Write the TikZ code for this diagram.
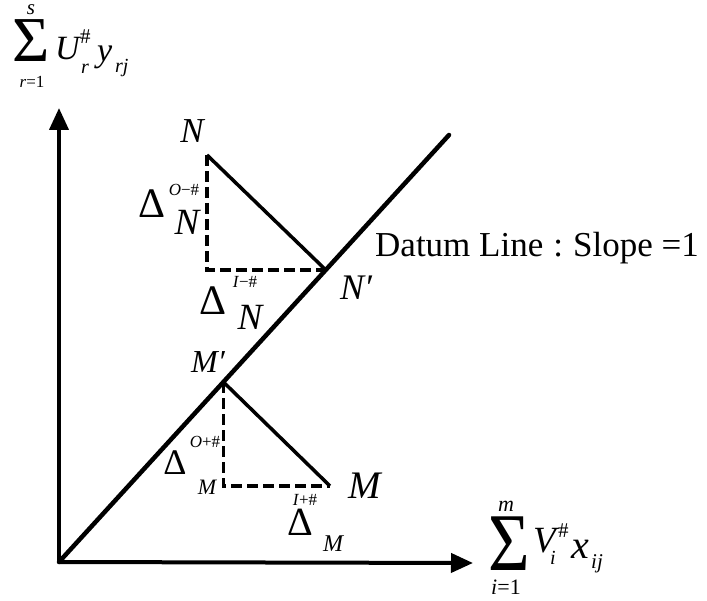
\documentclass[tikz,border=0pt]{standalone}
\usepackage{fontspec}
\usepackage{graphicx}
\setmainfont{Liberation Serif}
\usetikzlibrary{arrows.meta,calc}
\newcommand\fsz[1]{\fontsize{#1}{#1}\selectfont}
\begin{document}
\begin{tikzpicture}[x=1pt,y=-1pt,
  axisln/.style={line width=4pt,-{Triangle[length=22pt,width=19pt]}},
  datumln/.style={line width=4.5pt,line cap=round},
  solidln/.style={line width=3.5pt},
  dashln/.style={line width=3.5pt,dash pattern=on 11pt off 5pt},
  lbl/.style={inner sep=0pt,anchor=base},
  lblw/.style={inner sep=0pt,anchor=base west}]
\useasboundingbox (0,0) rectangle (707,601);
% axes
\coordinate (O) at (59,562);
\coordinate (ytip) at (59,108);
\coordinate (xtip) at (473,563);
\coordinate (D) at (449,135);
\draw[axisln] (O) -- (ytip);
\draw[axisln] (O) -- (xtip);
\draw[datumln] (O) -- (D);
% triangle N
\coordinate (N) at (207,155);
\coordinate (Np) at ($(O)!0.684!(D)$);
\coordinate (Nc) at (N |- Np);
\draw[solidln] (N) -- (Np);
\draw[dashln] (N) -- (Nc) -- (Np);
% triangle M
\coordinate (Mp) at ($(O)!0.4215!(D)$);
\coordinate (M) at (330,486);
\coordinate (Mc) at (Mp |- M);
\draw[solidln] (Mp) -- (M);
\draw[dashln] (Mp) -- (Mc) -- (M);
% y axis label
\node[lbl,font=\fsz{64}] (ysig) at (31,62) {Σ};
\node[lbl,font=\fsz{21}\itshape] (ys) at (31,15) {s};
\node[lbl,font=\fsz{17}] (yr1) at (32,88) {\textit{r}=1};
\node[lblw,font=\fsz{34}\itshape] (yU) at (55,60) {U};
\node[lblw,font=\fsz{21}] (yh) at (80,44) {\#};
\node[lblw,font=\fsz{20}\itshape] (yr) at (81,74) {r};
\node[lblw,font=\fsz{34}\itshape] (yy) at (97,62) {y};
\node[lblw,font=\fsz{20}\itshape] (yrj) at (115,73) {rj};
% x axis label
\node[lbl,font=\fsz{82}] (xsig) at (509,570) {\scalebox{0.87}[1]{Σ}};
\node[lbl,font=\fsz{22}\itshape] (xm) at (506,511) {m};
\node[lbl,font=\fsz{22}] (xi1) at (506,594) {\textit{i}=1};
\node[lblw,font=\fsz{37}\itshape] (xV) at (533,552) {V};
\node[lblw,font=\fsz{21}] (xh) at (558,537) {\#};
\node[lblw,font=\fsz{20}\itshape] (xi) at (550,564) {i};
\node[lblw,font=\fsz{40}\itshape] (xx) at (571,558) {x};
\node[lblw,font=\fsz{21}\itshape] (xij) at (591,568) {ij};
% datum text
\node[lblw,font=\fsz{35}] (datum) at (375,257) {Datum Line\hspace{10pt}:\hspace{10pt}Slope =1};
% N labels
\node[lbl,font=\fsz{35}\itshape] (lN) at (192,143) {N};
\node[lbl,font=\fsz{42}] (dNO) at (152,218) {Δ};
\node[lbl,font=\fsz{17}] (dNOs) at (184,196) {\textit{O}−\#};
\node[lbl,font=\fsz{37}\itshape] (dNOn) at (187,235) {N};
\node[lbl,font=\fsz{17}] (dNIs) at (245,288) {\textit{I}−\#};
\node[lbl,font=\fsz{42}] (dNI) at (213,315) {Δ};
\node[lbl,font=\fsz{37}\itshape] (dNIn) at (250,330) {N};
\node[lbl,font=\fsz{36}\itshape] (lNp) at (356,300) {N′};
% M labels
\node[lbl,font=\fsz{32}\itshape] (lMp) at (208,373) {M′};
\node[lbl,font=\fsz{17}] (dMOs) at (205,448) {\textit{O}+\#};
\node[lbl,font=\fsz{36}] (dMO) at (175,475) {Δ};
\node[lbl,font=\fsz{22}\itshape] (dMOm) at (207,494) {M};
\node[lbl,font=\fsz{39}\itshape] (lM) at (365,498) {M};
\node[lbl,font=\fsz{17}] (dMIs) at (305,505) {\textit{I}+\#};
\node[lbl,font=\fsz{40}] (dMI) at (300,535) {Δ};
\node[lbl,font=\fsz{24}\itshape] (dMIm) at (333,551) {M};
\end{tikzpicture}
\end{document}
